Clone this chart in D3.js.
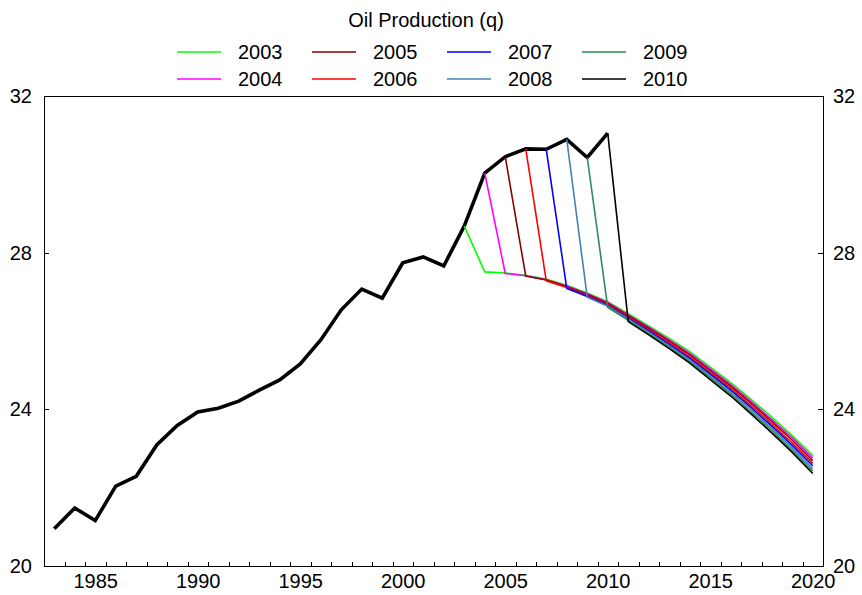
<!DOCTYPE html>
<html>
<head>
<meta charset="utf-8">
<script src="https://cdn.jsdelivr.net/npm/d3@7"></script>
<style>
  html, body { margin: 0; padding: 0; background: #fff; }
  svg { display: block; }
  text { font-family: "Liberation Sans", Arial, Helvetica, sans-serif; fill: #000; }
</style>
</head>
<body>
<svg id="chart" width="862" height="595"></svg>
<script>
// ---------- data ----------
const title = "Oil Production (q)";
const actualYears = [1983,1984,1985,1986,1987,1988,1989,1990,1991,1992,1993,1994,1995,1996,
  1997,1998,1999,2000,2001,2002,2003,2004,2005,2006,2007,2008,2009,2010];
const actualValues = [20.95,21.48,21.16,22.04,22.29,23.09,23.59,23.93,24.03,24.21,24.49,24.75,25.16,25.77,
  26.54,27.07,26.84,27.74,27.89,27.66,28.68,30.03,30.45,30.65,30.64,30.89,30.43,31.05];

const forecastOrigins = [2003,2004,2005,2006,2007,2008,2009,2010];
const forecastColors = ["#00ff00","#ff00ff","#8b0000","#ff0000","#0000ff","#4682b4","#2e8b57","#000000"];
// forecast values for origin+1 ... 2020
const fc2003 = [27.51,27.48,27.42,27.33,27.17,26.97,26.75,26.44,26.13,25.81,25.47,25.08,24.68,24.25,23.80,23.33,22.82];
const fc2004 = [27.47,27.41,27.31,27.15,26.95,26.73,26.41,26.10,25.77,25.43,25.03,24.63,24.20,23.74,23.27,22.76];
const fc2005 = [27.40,27.30,27.13,26.93,26.70,26.39,26.07,25.74,25.39,24.99,24.59,24.15,23.69,23.21,22.69];
const fc2006 = [27.28,27.11,26.90,26.68,26.36,26.03,25.70,25.34,24.94,24.54,24.09,23.63,23.14,22.62];
const fc2007 = [27.09,26.88,26.65,26.33,26.00,25.66,25.30,24.90,24.49,24.04,23.57,23.08,22.56];
const fc2008 = [26.86,26.63,26.30,25.97,25.62,25.26,24.85,24.44,23.99,23.51,23.02,22.49];
const fc2009 = [26.60,26.27,25.93,25.59,25.22,24.81,24.39,23.93,23.46,22.96,22.43];
const fc2010 = [26.24,25.90,25.55,25.18,24.76,24.34,23.88,23.40,22.90,22.36];
const forecastValues = [fc2003,fc2004,fc2005,fc2006,fc2007,fc2008,fc2009,fc2010];

const yTicks = [20,24,28,32];
const xLabelTicks = [1985,1990,1995,2000,2005,2010,2015,2020];
const xMinorTicks = d3.range(1983.5, 2020, 1);

// ---------- layout ----------
const svg = d3.select("#chart");
const L = 44, R = 823, T = 96, B = 566;
const x = d3.scaleLinear().domain([1982.5, 2020.5]).range([L, R]);
const y = d3.scaleLinear().domain([20, 32]).range([B, T]);

// frame
svg.append("rect").attr("x", L).attr("y", T).attr("width", R - L).attr("height", B - T)
  .attr("fill", "none").attr("stroke", "#000").attr("stroke-width", 1)
  .attr("shape-rendering", "crispEdges");

// x minor ticks (inward)
const xTickAxis = d3.axisBottom(x).tickValues(xMinorTicks).tickSize(-4).tickFormat("");
const gx = svg.append("g").attr("transform", `translate(0,${B})`).call(xTickAxis);
gx.select(".domain").remove();
gx.selectAll("line").attr("stroke", "#000").attr("shape-rendering", "crispEdges");

// x labels
const xLabAxis = d3.axisBottom(x).tickValues(xLabelTicks).tickSize(0).tickPadding(8).tickFormat(d3.format("d"));
const gxl = svg.append("g").attr("transform", `translate(0,${B})`).call(xLabAxis);
gxl.select(".domain").remove();
gxl.selectAll("text").style("font-size", "20px").attr("font-family", null);

// y axes
const yl = d3.axisLeft(y).tickValues(yTicks).tickSize(-5).tickPadding(12).tickFormat(d3.format("d"));
const gyl = svg.append("g").attr("transform", `translate(${L},0)`).call(yl);
gyl.select(".domain").remove();
gyl.selectAll("line").attr("stroke", "#000").attr("shape-rendering", "crispEdges");
gyl.selectAll("text").style("font-size", "20px");

const yr = d3.axisRight(y).tickValues(yTicks).tickSize(-5).tickPadding(10).tickFormat(d3.format("d"));
const gyr = svg.append("g").attr("transform", `translate(${R},0)`).call(yr);
gyr.select(".domain").remove();
gyr.selectAll("line").attr("stroke", "#000").attr("shape-rendering", "crispEdges");
gyr.selectAll("text").style("font-size", "20px");

svg.selectAll(".tick text").attr("font-family", null).attr("font-size", null);

// ---------- lines ----------
const line = d3.line().x(d => x(d[0])).y(d => y(d[1]));
const actualPts = actualYears.map((yr, i) => [yr, actualValues[i]]);
const actualAt = yr => actualValues[actualYears.indexOf(yr)];

svg.append("path").datum(actualPts).attr("d", line)
  .attr("fill", "none").attr("stroke", "#000").attr("stroke-width", 3.6)
  .attr("stroke-linejoin", "miter");

forecastOrigins.forEach((o, i) => {
  const pts = [[o, actualAt(o)]].concat(forecastValues[i].map((v, j) => [o + 1 + j, v]));
  svg.append("path").datum(pts).attr("d", line)
    .attr("fill", "none").attr("stroke", forecastColors[i]).attr("stroke-width", 1.6);
});

// ---------- title & legend ----------
svg.append("text").attr("x", 426).attr("y", 27).attr("text-anchor", "middle")
  .style("font-size", "20px").text(title);

const legCols = [177, 312, 447, 582];
const legRows = [52, 79];
forecastOrigins.forEach((o, i) => {
  const cx = legCols[Math.floor(i / 2)], cy = legRows[i % 2];
  svg.append("line").attr("x1", cx).attr("x2", cx + 44).attr("y1", cy).attr("y2", cy)
    .attr("stroke", forecastColors[i]).attr("stroke-width", 1.6);
  svg.append("text").attr("x", cx + 61).attr("y", cy + 7).style("font-size", "20px").text(o);
});
</script>
</body>
</html>
